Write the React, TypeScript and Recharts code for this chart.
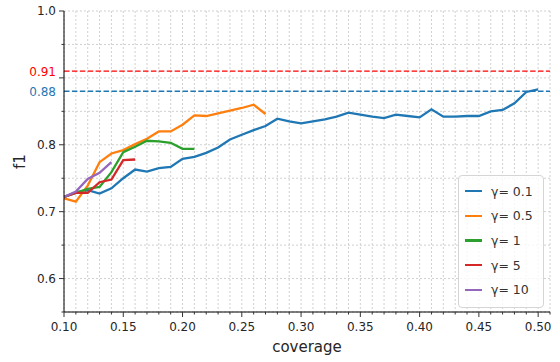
import React from 'react';
import {
  LineChart,
  Line,
  XAxis,
  YAxis,
  CartesianGrid,
  ReferenceLine,
} from 'recharts';

// coverage values (x) and f1 for each gamma
const coverage = [
  0.1, 0.11, 0.12, 0.13, 0.14, 0.15, 0.16, 0.17, 0.18, 0.19, 0.2,
  0.21, 0.22, 0.23, 0.24, 0.25, 0.26, 0.27, 0.28, 0.29, 0.3,
  0.31, 0.32, 0.33, 0.34, 0.35, 0.36, 0.37, 0.38, 0.39, 0.4,
  0.41, 0.42, 0.43, 0.44, 0.45, 0.46, 0.47, 0.48, 0.49, 0.5,
];
const gamma01 = [
  0.722, 0.729, 0.732, 0.727, 0.735, 0.75, 0.763, 0.76, 0.765, 0.767, 0.779,
  0.782, 0.788, 0.796, 0.808, 0.815, 0.822, 0.828, 0.839, 0.835, 0.832,
  0.835, 0.838, 0.842, 0.848, 0.845, 0.842, 0.84, 0.845, 0.843, 0.841,
  0.853, 0.842, 0.842, 0.843, 0.843, 0.85, 0.852, 0.862, 0.879, 0.883,
];
const gamma05 = [
  0.72, 0.715, 0.739, 0.774, 0.787, 0.792, 0.801, 0.809, 0.82, 0.82, 0.83,
  0.844, 0.843, 0.847, 0.851, 0.855, 0.86, 0.846,
];
const gamma1 = [
  0.722, 0.728, 0.734, 0.737, 0.759, 0.789, 0.797, 0.806, 0.805, 0.803, 0.794,
  0.794,
];
const gamma5 = [0.722, 0.728, 0.728, 0.744, 0.748, 0.777, 0.778];
const gamma10 = [0.722, 0.73, 0.749, 0.758, 0.774];

const series = [
  { key: 'g01', name: 'γ= 0.1', color: '#1f77b4', values: gamma01 },
  { key: 'g05', name: 'γ= 0.5', color: '#ff7f0e', values: gamma05 },
  { key: 'g1', name: 'γ= 1', color: '#2ca02c', values: gamma1 },
  { key: 'g5', name: 'γ= 5', color: '#d62728', values: gamma5 },
  { key: 'g10', name: 'γ= 10', color: '#9467bd', values: gamma10 },
];

// reference levels
const refLines = [
  { y: 0.91, label: '0.91', color: '#ff0000' },
  { y: 0.88, label: '0.88', color: '#1f77b4' },
];

// axis ticks
const xTicks = [
  0.1, 0.11, 0.12, 0.13, 0.14, 0.15, 0.16, 0.17, 0.18, 0.19, 0.2,
  0.21, 0.22, 0.23, 0.24, 0.25, 0.26, 0.27, 0.28, 0.29, 0.3,
  0.31, 0.32, 0.33, 0.34, 0.35, 0.36, 0.37, 0.38, 0.39, 0.4,
  0.41, 0.42, 0.43, 0.44, 0.45, 0.46, 0.47, 0.48, 0.49, 0.5, 0.51,
];
const xLabels = [0.1, 0.15, 0.2, 0.25, 0.3, 0.35, 0.4, 0.45, 0.5];
const yTicks = [0.55, 0.6, 0.65, 0.7, 0.75, 0.8, 0.85, 0.88, 0.9, 0.91, 0.95, 1.0];
const yMajor = [0.6, 0.7, 0.8, 0.9, 1.0];
const yLabels = [0.6, 0.7, 0.8, 1.0];
const gridY = [0.55, 0.6, 0.65, 0.7, 0.75, 0.8, 0.85, 0.9, 0.95, 1.0];

const rows = coverage.map((c, i) => {
  const row: Record<string, number | undefined> = { coverage: c };
  series.forEach((s) => {
    row[s.key] = s.values[i];
  });
  return row;
});

const FONT = '"DejaVu Sans", sans-serif';
const TEXT = '#262626';

const near = (a: number, list: number[]) => list.some((b) => Math.abs(a - b) < 1e-6);

const XTick = (props: any) => {
  const { x, y, payload } = props;
  const v = payload.value as number;
  const major = near(v, xLabels);
  return (
    <g>
      <line x1={x} x2={x} y1={y} y2={y + (major ? 5 : 2.5)} stroke="#333" strokeWidth={1} />
      {major && (
        <text x={x} y={y + 19} textAnchor="middle" fontSize={12} fill={TEXT} fontFamily={FONT}>
          {v.toFixed(2)}
        </text>
      )}
    </g>
  );
};

const YTick = (props: any) => {
  const { x, y, payload } = props;
  const v = payload.value as number;
  const ref = refLines.find((r) => Math.abs(r.y - v) < 1e-6);
  const major = near(v, yMajor);
  const label = ref ? ref.label : near(v, yLabels) ? v.toFixed(1) : null;
  return (
    <g>
      {!ref && (
        <line x1={x} x2={x - (major ? 5 : 2.5)} y1={y} y2={y} stroke="#333" strokeWidth={1} />
      )}
      {label && (
        <text
          x={x - 8}
          y={y}
          dy="0.36em"
          textAnchor="end"
          fontSize={12}
          fill={ref ? ref.color : TEXT}
          fontFamily={FONT}
        >
          {label}
        </text>
      )}
    </g>
  );
};

export default function App() {
  return (
    <div
      style={{
        position: 'absolute',
        left: 0,
        top: 0,
        width: 560,
        height: 362,
        background: '#fff',
        fontFamily: FONT,
      }}
    >
      <LineChart width={560} height={362} data={rows} margin={{ top: 11, right: 10, bottom: 10, left: 10 }}>
        <CartesianGrid stroke="#d0d0d0" strokeDasharray="2 2" horizontalValues={gridY} />
        <XAxis
          dataKey="coverage"
          type="number"
          domain={[0.1, 0.51]}
          ticks={xTicks}
          interval={0}
          allowDataOverflow
          height={40}
          tickSize={0}
          tickMargin={0}
          tickLine={false}
          tick={<XTick />}
          axisLine={{ stroke: '#000', strokeWidth: 1 }}
          label={{
            value: 'coverage',
            position: 'insideBottom',
            offset: 0,
            style: { fontSize: 15, fill: TEXT, fontFamily: FONT },
          }}
        />
        <YAxis
          type="number"
          domain={[0.55, 1.0]}
          ticks={yTicks}
          interval={0}
          allowDataOverflow
          width={54}
          tickSize={0}
          tickMargin={0}
          tickLine={false}
          tick={<YTick />}
          axisLine={{ stroke: '#000', strokeWidth: 1 }}
          label={{
            value: 'f1',
            angle: -90,
            position: 'insideLeft',
            offset: 10,
            style: { fontSize: 15, fill: TEXT, fontFamily: FONT, textAnchor: 'middle' },
          }}
        />
        {refLines.map((r) => (
          <ReferenceLine
            key={r.y}
            y={r.y}
            stroke={r.color}
            strokeWidth={1.3}
            strokeDasharray="5.5 2.4"
          />
        ))}
        {series.map((s) => (
          <Line
            key={s.key}
            dataKey={s.key}
            name={s.name}
            stroke={s.color}
            strokeWidth={2.3}
            type="linear"
            dot={false}
            activeDot={false}
            connectNulls={false}
            isAnimationActive={false}
          />
        ))}
      </LineChart>
      <div
        style={{
          position: 'absolute',
          left: 458,
          top: 175,
          width: 84,
          height: 128,
          border: '1px solid #d5d5d5',
          borderRadius: 4,
          background: 'rgba(255,255,255,0.8)',
          paddingTop: 3,
          boxSizing: 'content-box',
        }}
      >
        {series.map((s) => (
          <div key={s.key} style={{ display: 'flex', alignItems: 'center', height: 24.6 }}>
            <div style={{ marginLeft: 6, width: 17, height: 2.2, background: s.color }} />
            <span style={{ marginLeft: 9, fontSize: 12.5, color: '#333', whiteSpace: 'nowrap' }}>
              {s.name}
            </span>
          </div>
        ))}
      </div>
    </div>
  );
}
